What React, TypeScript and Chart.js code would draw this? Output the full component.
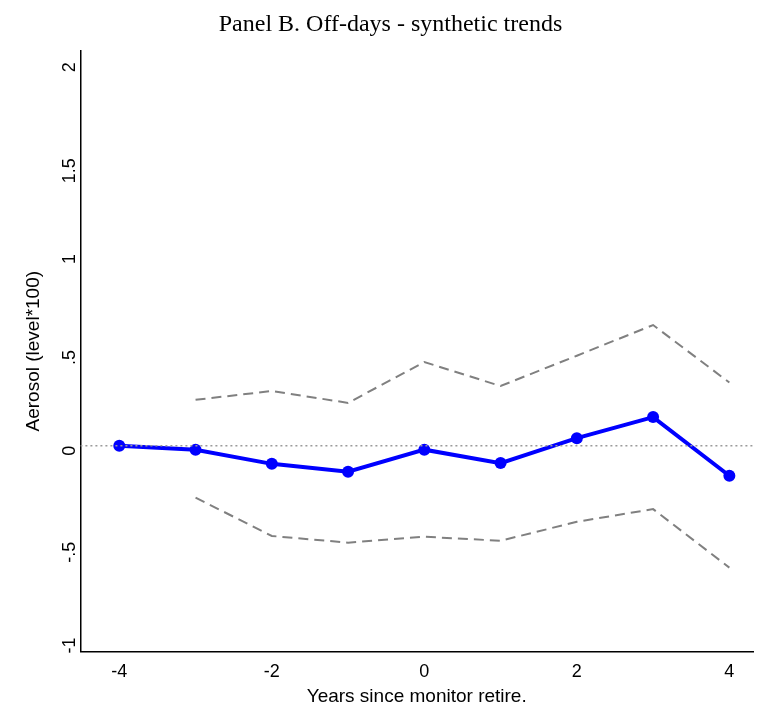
import React, { useEffect, useRef } from 'react'
import Chart from 'chart.js/auto'

const years = [-4, -3, -2, -1, 0, 1, 2, 3, 4]
const estimate = [0, -0.02, -0.094, -0.135, -0.02, -0.09, 0.04, 0.15, -0.156]
const upperYears = [-3, -2, -1, 0, 1, 2, 3, 4]
const upper = [0.24, 0.286, 0.224, 0.437, 0.312, 0.47, 0.63, 0.33]
const lower = [-0.27, -0.47, -0.505, -0.474, -0.495, -0.396, -0.33, -0.635]
const xTicks = [-4, -2, 0, 2, 4]
const yTicks = [-1, -0.5, 0, 0.5, 1, 1.5, 2]

const fmt = (v: number) => {
  if (v === 0.5) return '.5'
  if (v === -0.5) return '-.5'
  return String(v)
}

const App: React.FC = () => {
  const ref = useRef<HTMLCanvasElement | null>(null)

  useEffect(() => {
    document.body.style.margin = '0'
    if (!ref.current) return
    const ciStyle = {
      borderColor: '#808080',
      borderWidth: 2,
      borderDash: [10, 6],
      pointRadius: 0,
      fill: false
    }
    const chart = new Chart(ref.current, {
      type: 'line',
      data: {
        datasets: [
          {
            data: [{ x: -4.51, y: 0 }, { x: 4.31, y: 0 }],
            borderColor: '#9a9a9a',
            borderWidth: 1.5,
            borderDash: [2, 3],
            pointRadius: 0
          },
          { ...ciStyle, data: upperYears.map((x, i) => ({ x, y: upper[i] })) },
          { ...ciStyle, data: upperYears.map((x, i) => ({ x, y: lower[i] })) },
          {
            data: years.map((x, i) => ({ x, y: estimate[i] })),
            borderColor: '#0000ff',
            backgroundColor: '#0000ff',
            borderWidth: 4,
            pointRadius: 6,
            pointBorderWidth: 0
          }
        ]
      },
      options: {
        animation: false,
        responsive: false,
        layout: { padding: { left: 22, right: 0, top: 0, bottom: 0 } },
        plugins: {
          legend: { display: false },
          tooltip: { enabled: false },
          title: {
            display: true,
            text: 'Panel B. Off-days - synthetic trends',
            color: '#000',
            font: { family: 'Liberation Serif', size: 24, weight: 'normal' },
            padding: { top: 10, bottom: 12 }
          }
        },
        scales: {
          x: {
            type: 'linear',
            min: -4.51,
            max: 4.31,
            afterBuildTicks: (s: any) => { s.ticks = xTicks.map(v => ({ value: v })) },
            grid: { display: false, drawTicks: true, tickLength: 8, tickColor: '#000' },
            border: { color: '#000', width: 1.5 },
            ticks: { color: '#000', font: { family: 'Liberation Sans', size: 18 }, maxRotation: 0, padding: 2 },
            title: {
              display: true,
              text: 'Years since monitor retire.',
              color: '#000',
              font: { family: 'Liberation Sans', size: 19 },
              padding: { top: 0, bottom: 4 }
            }
          },
          y: {
            type: 'linear',
            min: -1.073,
            max: 2.06,
            afterBuildTicks: (s: any) => { s.ticks = yTicks.map(v => ({ value: v })) },
            grid: { display: false, drawTicks: true, tickLength: 8, tickColor: '#000' },
            border: { color: '#000', width: 1.5 },
            ticks: {
              color: '#000',
              font: { family: 'Liberation Sans', size: 18 },
              minRotation: 90,
              maxRotation: 90,
              padding: 2,
              callback: (v: any) => fmt(Number(v))
            },
            title: {
              display: true,
              text: 'Aerosol (level*100)',
              color: '#000',
              font: { family: 'Liberation Sans', size: 19 },
              padding: { top: 0, bottom: 2 }
            }
          }
        }
      }
    })
    return () => chart.destroy()
  }, [])

  return <canvas ref={ref} width={759} height={712} />
}

export default App
